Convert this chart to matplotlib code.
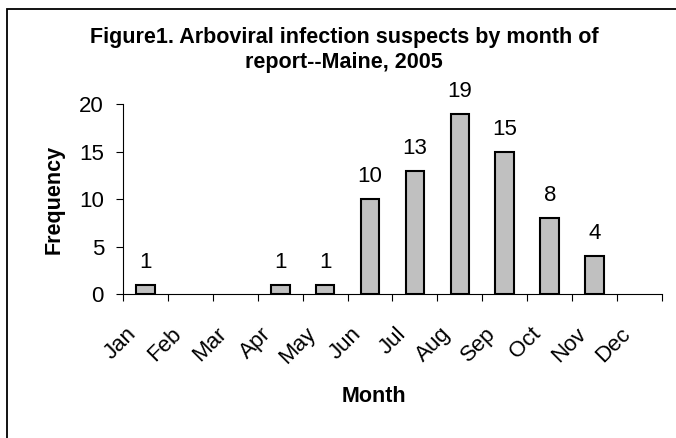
import matplotlib
matplotlib.use('Agg')
import numpy as np
from matplotlib import pyplot as plt
from matplotlib.patches import Rectangle
from matplotlib.transforms import ScaledTranslation

plt.rcParams['font.family'] = ['Liberation Sans', 'DejaVu Sans']

# donnees
mois = ['Jan', 'Feb', 'Mar', 'Apr', 'May', 'Jun',
        'Jul', 'Aug', 'Sep', 'Oct', 'Nov', 'Dec']
effectifs = [1, 0, 0, 1, 1, 10, 13, 19, 15, 8, 4, 0]
yticks = [0, 5, 10, 15, 20]

W, H = 676, 438
fig = plt.figure(figsize=(W / 100, H / 100), dpi=100)

# cadre du graphique (seuls les bords haut et gauche sont visibles)
fig.add_artist(Rectangle((7.3 / W, -0.2), 1.2, 1 - 9.3 / H + 0.2,
                         transform=fig.transFigure, fill=False,
                         edgecolor='black', linewidth=1.3, clip_on=False))

ax = fig.add_axes([122.7 / W, 144 / H, (662.3 - 122.7) / W, (294 - 104.3) / H])

x = np.arange(len(mois))
# pas de contour pour les barres nulles
contours = [1.5 if v > 0 else 0 for v in effectifs]
ax.bar(x, effectifs, width=0.42, color='#c0c0c0', edgecolor='black',
       linewidth=contours, zorder=3)

for xi, v in zip(x, effectifs):
  if v > 0:
    ax.annotate(str(v), (xi, v), xytext=(0, 12), textcoords='offset points',
                ha='center', va='baseline', fontsize=16)

ax.set_xlim(-0.5, len(mois) - 0.5)
ax.set_ylim(0, 20)
ax.set_yticks(yticks)
ax.set_yticklabels([str(t) for t in yticks])

# graduations aux limites des categories, etiquettes au centre
ax.set_xticks(np.arange(len(mois) + 1) - 0.5)
ax.set_xticklabels([])
ax.set_xticks(x, mois, minor=True)
ax.tick_params(axis='x', which='major', direction='out', length=5, width=0.8)
ax.tick_params(axis='x', which='minor', length=0, pad=26.5, labelsize=16)
ax.tick_params(axis='y', direction='out', length=5, width=0.8, pad=8.5,
               labelsize=16)

decal = ScaledTranslation(-0.12, 0, fig.dpi_scale_trans)
for lab in ax.get_xticklabels(minor=True):
  lab.set_rotation(45)
  lab.set_rotation_mode('anchor')
  lab.set_ha('right')
  lab.set_va('center')
  lab.set_transform(lab.get_transform() + decal)

for s in ['top', 'right']:
  ax.spines[s].set_visible(False)
for s in ['left', 'bottom']:
  ax.spines[s].set_linewidth(0.8)

# titre : la ligne de base donnee est celle de la derniere ligne
fig.text(344 / W, 1 - 68.3 / H,
         'Figure1. Arboviral infection suspects by month of\nreport--Maine, 2005',
         ha='center', va='baseline', fontsize=15.5, fontweight='bold',
         linespacing=1.25)
fig.text(374 / W, 1 - 401.7 / H, 'Month', ha='center', va='baseline',
         fontsize=15.5, fontweight='bold')
fig.text(60 / W, 1 - 199.2 / H, 'Frequency', rotation=90,
         rotation_mode='anchor', ha='center', va='baseline',
         fontsize=15.5, fontweight='bold')

fig.savefig('out.png', dpi=100)
